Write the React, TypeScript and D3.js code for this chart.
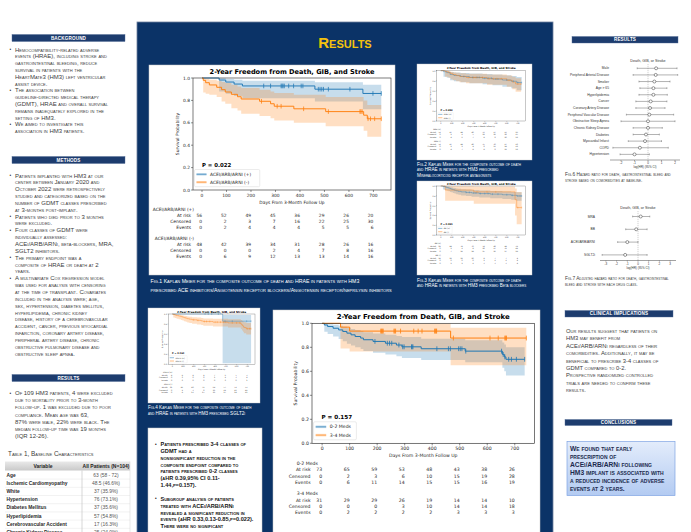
import React from 'react';
import * as d3 from 'd3';

const SANS = "'Liberation Sans', Arial, Helvetica, sans-serif";
const MPL = "'DejaVu Sans', 'Liberation Sans', sans-serif";
const BLUE = '#1f77b4';
const ORANGE = '#ff7f0e';
const PANEL = '#0b3367';
const BAR = '#1d3c6e';
const GOLD = '#f4c20d';
const BODY = '#3c3c3c';

// ---------------- shared axes ----------------
const DAY_TICKS = [0, 100, 200, 300, 400, 500, 600, 700];
const SURV_TICKS = [0, 0.2, 0.4, 0.6, 0.8, 1.0];
const DAY_DOMAIN = [-36.75, 771.75];
const RISK_ROWS = ['At risk', 'Censored', 'Events'];

// ---------------- Fig.1 ACEi/ARB/ARNi ----------------
const ACE_POS_T = [70, 97, 131, 165, 461, 657];
const ACE_POS_S = [0.982, 0.964, 0.946, 0.929, 0.9, 0.862];
const ACE_POS_LO = [0.88, 0.86, 0.84, 0.82, 0.79, 0.72];
const ACE_POS_HI = [0.997, 0.99, 0.985, 0.975, 0.962, 0.94];
const ACE_POS_CENS = [252, 280, 323, 327, 331, 336, 354, 374, 405, 412, 475, 482, 489, 496, 516, 604, 698, 732];
const ACE_POS_AT_RISK = [56, 52, 49, 45, 36, 29, 26, 20];
const ACE_POS_CENSORED = [0, 2, 3, 7, 16, 22, 25, 30];
const ACE_POS_EVENTS = [0, 2, 4, 4, 4, 5, 5, 6];

const ACE_NEG_T = [5, 15, 30, 60, 80, 95, 120, 145, 160, 235, 280, 295, 375, 505, 660, 675];
const ACE_NEG_S = [0.979, 0.958, 0.938, 0.917, 0.896, 0.875, 0.854, 0.833, 0.8125, 0.792, 0.77, 0.748, 0.725, 0.7, 0.668, 0.636];
const ACE_NEG_LO = [0.87, 0.86, 0.85, 0.83, 0.79, 0.77, 0.73, 0.71, 0.68, 0.66, 0.64, 0.62, 0.6, 0.57, 0.53, 0.476];
const ACE_NEG_HI = [0.997, 0.993, 0.985, 0.975, 0.965, 0.955, 0.94, 0.925, 0.91, 0.895, 0.88, 0.865, 0.85, 0.83, 0.8, 0.76];
const ACE_NEG_CENS = [243, 307, 323, 415, 516, 645, 649, 654, 678, 688, 705, 732];
const ACE_NEG_AT_RISK = [48, 42, 39, 34, 31, 28, 26, 16];
const ACE_NEG_CENSORED = [0, 0, 0, 2, 4, 7, 8, 16];
const ACE_NEG_EVENTS = [0, 6, 9, 12, 13, 13, 14, 16];

// ---------------- Fig.2 MRA ----------------
const MRA_POS_T = [25, 55, 85, 120, 180, 260, 380, 470, 560, 640, 690];
const MRA_POS_S = [0.981, 0.962, 0.923, 0.904, 0.885, 0.866, 0.85, 0.834, 0.815, 0.79, 0.765];
const MRA_POS_LO = [0.88, 0.86, 0.81, 0.79, 0.77, 0.75, 0.73, 0.71, 0.68, 0.65, 0.61];
const MRA_POS_HI = [0.997, 0.99, 0.975, 0.965, 0.955, 0.945, 0.935, 0.925, 0.91, 0.895, 0.875];
const MRA_POS_CENS = [210, 290, 330, 350, 400, 430, 460, 500, 520, 600, 660, 700, 735];
const MRA_POS_AT_RISK = [52, 47, 44, 40, 33, 27, 23, 16];
const MRA_POS_CENSORED = [0, 1, 2, 5, 11, 16, 19, 25];
const MRA_POS_EVENTS = [0, 4, 6, 7, 8, 9, 10, 11];

const MRA_NEG_T = [40, 70, 90, 110, 140, 170, 230, 420, 600, 650, 680];
const MRA_NEG_S = [0.981, 0.962, 0.942, 0.923, 0.904, 0.885, 0.865, 0.84, 0.81, 0.775, 0.735];
const MRA_NEG_LO = [0.88, 0.86, 0.83, 0.81, 0.79, 0.77, 0.75, 0.72, 0.68, 0.63, 0.58];
const MRA_NEG_HI = [0.997, 0.99, 0.98, 0.97, 0.96, 0.95, 0.94, 0.925, 0.905, 0.88, 0.85];
const MRA_NEG_CENS = [250, 300, 320, 380, 440, 480, 510, 550, 620, 700, 730];
const MRA_NEG_AT_RISK = [52, 47, 44, 40, 35, 30, 27, 20];
const MRA_NEG_CENSORED = [0, 1, 1, 4, 9, 13, 14, 21];
const MRA_NEG_EVENTS = [0, 4, 7, 8, 8, 9, 11, 11];

// ---------------- Fig.3 Beta blockers ----------------
const BB_POS_T = [20, 40, 55, 70, 85, 95, 110, 125, 140, 160, 185, 230, 280, 350, 450, 560, 640, 690];
const BB_POS_S = [0.989, 0.978, 0.967, 0.957, 0.946, 0.935, 0.924, 0.913, 0.902, 0.891, 0.88, 0.869, 0.858, 0.846, 0.834, 0.822, 0.81, 0.797];
const BB_POS_LO = [0.93, 0.92, 0.91, 0.895, 0.88, 0.87, 0.855, 0.845, 0.83, 0.82, 0.805, 0.795, 0.78, 0.765, 0.75, 0.735, 0.72, 0.7];
const BB_POS_HI = [0.998, 0.995, 0.99, 0.985, 0.98, 0.972, 0.965, 0.958, 0.95, 0.943, 0.935, 0.927, 0.92, 0.91, 0.9, 0.89, 0.88, 0.87];
const BB_POS_CENS = [230, 260, 300, 320, 360, 400, 430, 470, 520, 600, 650, 700, 720, 735];
const BB_POS_AT_RISK = [92, 84, 78, 70, 58, 49, 44, 32];
const BB_POS_CENSORED = [0, 1, 2, 8, 19, 27, 31, 42];
const BB_POS_EVENTS = [0, 7, 12, 14, 15, 16, 17, 18];

const BB_NEG_T = [40, 300, 675, 690];
const BB_NEG_S = [0.917, 0.88, 0.72, 0.56];
const BB_NEG_LO = [0.7, 0.64, 0.4, 0.22];
const BB_NEG_HI = [0.995, 0.99, 0.95, 0.88];
const BB_NEG_CENS = [330, 420, 500, 700, 735];
const BB_NEG_AT_RISK = [12, 11, 11, 10, 8, 7, 7, 4];
const BB_NEG_CENSORED = [0, 0, 0, 0, 1, 2, 2, 4];
const BB_NEG_EVENTS = [0, 1, 1, 2, 3, 3, 3, 4];

// ---------------- Fig.4 SGLT2i ----------------
const SG_POS_T = [470];
const SG_POS_S = [0.857];
const SG_POS_LO = [0.02];
const SG_POS_HI = [0.98];
const SG_POS_CENS = [306, 336, 368, 430, 492, 560, 694, 735];
const SG_POS_AT_RISK = [8, 8, 8, 8, 7, 6, 5, 3];
const SG_POS_CENSORED = [0, 0, 0, 0, 1, 2, 3, 4];
const SG_POS_EVENTS = [0, 0, 0, 0, 0, 0, 0, 1];

const SG_NEG_T = [10, 25, 40, 60, 80, 95, 110, 125, 140, 160, 185, 230, 270, 290, 380, 520, 640, 650, 660, 668, 690];
const SG_NEG_S = [0.99, 0.979, 0.969, 0.958, 0.948, 0.938, 0.927, 0.917, 0.906, 0.896, 0.885, 0.874, 0.862, 0.851, 0.838, 0.823, 0.8, 0.777, 0.754, 0.731, 0.708];
const SG_NEG_LO = [0.93, 0.92, 0.905, 0.895, 0.88, 0.87, 0.855, 0.845, 0.83, 0.82, 0.805, 0.79, 0.78, 0.765, 0.75, 0.73, 0.7, 0.67, 0.645, 0.615, 0.59];
const SG_NEG_HI = [0.998, 0.995, 0.99, 0.985, 0.978, 0.972, 0.965, 0.958, 0.95, 0.943, 0.935, 0.928, 0.92, 0.912, 0.905, 0.895, 0.88, 0.865, 0.85, 0.835, 0.82];
const SG_NEG_CENS = [200, 240, 300, 320, 350, 400, 420, 450, 480, 500, 560, 600, 630, 700, 720, 735];
const SG_NEG_AT_RISK = [96, 86, 80, 72, 64, 57, 52, 33];
const SG_NEG_CENSORED = [0, 2, 3, 9, 16, 22, 26, 42];
const SG_NEG_EVENTS = [0, 8, 13, 15, 16, 17, 18, 21];

// ---------------- Fig.5 number of GDMT classes ----------------
const MEDS02_T = [8, 20, 40, 60, 75, 90, 105, 120, 140, 150, 185, 230, 270, 290, 360, 520, 655, 662, 668];
const MEDS02_S = [0.986, 0.973, 0.959, 0.945, 0.932, 0.918, 0.904, 0.89, 0.877, 0.863, 0.849, 0.834, 0.819, 0.804, 0.788, 0.768, 0.741, 0.72, 0.7];
const MEDS02_LO = [0.93, 0.91, 0.89, 0.87, 0.85, 0.83, 0.815, 0.8, 0.785, 0.77, 0.755, 0.74, 0.725, 0.71, 0.695, 0.675, 0.63, 0.6, 0.565];
const MEDS02_HI = [0.998, 0.993, 0.987, 0.98, 0.972, 0.962, 0.953, 0.944, 0.935, 0.925, 0.915, 0.905, 0.895, 0.885, 0.872, 0.858, 0.84, 0.823, 0.8];
const MEDS02_CENS = [192, 237, 245, 253, 279, 293, 298, 325, 327, 330, 417, 459, 466, 496, 502, 508, 522, 652, 658, 664, 678, 688, 706, 736];
const MEDS02_AT_RISK = [73, 65, 59, 53, 48, 43, 38, 26];
const MEDS02_CENSORED = [0, 2, 3, 6, 10, 15, 19, 28];
const MEDS02_EVENTS = [0, 6, 11, 14, 15, 15, 16, 19];

const MEDS34_T = [67, 100, 467];
const MEDS34_S = [0.968, 0.935, 0.877];
const MEDS34_LO = [0.79, 0.765, 0.65];
const MEDS34_HI = [0.999, 0.999, 0.962];
const MEDS34_CENS = [213, 216, 219, 222, 261, 264, 267, 285, 333, 349, 363, 409, 411, 414, 416, 477, 610, 640, 664, 667, 670, 742];
const MEDS34_AT_RISK = [31, 29, 29, 26, 19, 14, 14, 10];
const MEDS34_CENSORED = [0, 0, 0, 3, 10, 14, 14, 18];
const MEDS34_EVENTS = [0, 2, 2, 2, 2, 3, 3, 3];

// ---------------- Forest plots ----------------
const FOREST1_LABELS = ['Male', 'Peripheral Arterial Disease', 'Smoker', 'Age > 65', 'Hyperlipidemia', 'Cancer', 'Coronary Artery Disease', 'Peripheral Vascular Disease', 'Obstructive Sleep Apnea', 'Chronic Kidney Disease', 'Diabetes', 'Myocardial Infarct', 'COPD', 'Hypertension'];
const FOREST1_EST = [0.6, 0.57, 0.47, 0.4, 0.4, 0.2, 0.15, 0.1, 0, 0, -0.15, -0.22, -0.6, -1.0];
const FOREST1_LO = [-0.8, -1.1, -0.67, -0.6, -0.67, -0.9, -0.9, -1.6, -2.0, -1.1, -1.1, -1.46, -2.6, -2.07];
const FOREST1_HI = [2.15, 2.2, 1.63, 1.4, 1.43, 1.4, 1.26, 1.9, 2.0, 1.06, 0.84, 1.0, 1.5, 0.1];
const FOREST1_TICKS = [-2, -1, 0, 1, 2];

const FOREST2_LABELS = ['MRA', 'BB', 'ACEI/ARB/ARNI', 'SGLT2i'];
const FOREST2_EST = [0.25, -0.17, -1.0, -1.2];
const FOREST2_LO = [-0.5, -1.15, -1.9, -3.35];
const FOREST2_HI = [1.1, 0.85, 0.0, 0.85];
const FOREST2_TICKS = [-3, -2, -1, 0, 1, 2, 3];

// ---------------- Table 1 ----------------
const TABLE_VARS = ['Age', 'Ischemic Cardiomyopathy', 'White', 'Hypertension', 'Diabetes Mellitus', 'Hyperlipidemia', 'Cerebrovascular Accident', 'Chronic Kidney Disease'];
const TABLE_VALUES = ['63 (58 - 72)', '48.5 (46.6%)', '37 (35.9%)', '76 (73.1%)', '37 (35.6%)', '57 (54.8%)', '17 (16.3%)', '25 (24.0%)'];

// ---------------- Text ----------------
const BG_LINES = [
  '• Hemocompatibility-related adverse',
  'events (HRAE), including stroke and',
  'gastrointestinal bleeding, reduce',
  'survival in patients with the',
  'HeartMate3 (HM3) left ventricular',
  'assist device.',
  '• The association between',
  'guideline-directed medical therapy',
  '(GDMT), HRAE and overall survival',
  'remains inadequately explored in the',
  'setting of HM3.',
  '• We aimed to investigate this',
  'association in HM3 patients.',
];
const METHODS_LINES = [
  '• Patients implanted with HM3 at our',
  'center between January 2020 and',
  'October 2022 were retrospectively',
  'studied and categorized based on the',
  'number of GDMT classes prescribed',
  'at 3-months post-implant.',
  '• Patients who died prior to 3 months',
  'were excluded.',
  '• Four classes of GDMT were',
  'individually assessed:',
  'ACEi/ARB/ARNi, beta-blockers, MRA,',
  'SGLT2 inhibitors.',
  '• The primary endpoint was a',
  'composite of HRAE or death at 2',
  'years.',
  '• A multivariate Cox regression model',
  'was used for analysis with censoring',
  'at the time of transplant. Covariates',
  'included in the analysis were; age,',
  'sex, hypertension, diabetes mellitus,',
  'hyperlipidemia, chronic kidney',
  'disease, history of a cerebrovascular',
  'accident, cancer, previous myocardial',
  'infarction, coronary artery disease,',
  'peripheral artery disease, chronic',
  'obstructive pulmonary disease and',
  'obstructive sleep apnea.',
];
const RESULTS_LINES = [
  '• Of 109 HM3 patients, 4 were excluded',
  'due to mortality prior to 3-month',
  'follow-up. 1 was excluded due to poor',
  'compliance.  Mean age was 63,',
  '87% were male, 22% were black. The',
  'median follow-up time was 19 months',
  '(IQR 12-26).',
];
const CENTER_BULLETS = [
  '• Patients prescribed 3-4 classes of',
  'GDMT had a',
  'nonsignificant reduction in the',
  'composite endpoint compared to',
  'patients prescribed 0-2 classes',
  '(aHR 0.39,95% CI 0.11-',
  '1.44,p=0.157).',
  '',
  '• Subgroup analysis of patients',
  'treated with ACEi/ARB/ARNi',
  'revealed a significant reduction in',
  'events (aHR 0.33,0.13-0.85,p=0.022).',
  'There were no significant',
];
const CLINICAL_LINES = [
  'Our results suggest that patients on',
  'HM3 may benefit from',
  'ACEi/ARB/ARNi regardless of their',
  'comorbidities. Additionally, it may be',
  'beneficial to prescribe 3-4 classes of',
  'GDMT compared to 0-2.',
  'Prospective randomized controlled',
  'trials are needed to confirm these',
  'results.',
];
const CONCLUSION_LINES = [
  'We found that early',
  'prescription of',
  'ACEi/ARB/ARNi following',
  'HM3 implant is associated with',
  'a reduced incidence of adverse',
  'events at 2 years.',
];
const FIG1_CAPTION = [
  'Fig.1 Kaplan Meier for the composite outcome of death and HRAE in patients with HM3',
  'prescribed ACE inhibitors/Angiotensin receptor blockers/Angiotensin receptor/neprilysin inhibitors',
];
const FIG2_CAPTION = [
  'Fig.2 Kaplan Meier for the composite outcome of death',
  'and HRAE in patients with HM3 prescribed',
  'Mineralocorticoid receptor antagonists',
];
const FIG3_CAPTION = [
  'Fig.3 Kaplan Meier for the composite outcome of death',
  'and HRAE in patients with HM3 prescribed Beta blockers',
];
const FIG4_CAPTION = [
  'Fig.4 Kaplan Meier for the composite outcome of death',
  'and HRAE in patients with HM3 prescribed SGLT2i',
];
const FIG6_CAPTION = [
  'Fig.6 Hazard ratio for death, gastrointestinal bleed and',
  'stroke based on comorbidities at baseline.',
];
const FIG7_CAPTION = [
  'Fig.7 Adjusted hazard ratio for death, gastrointestinal',
  'bleed and stroke with each drug class.',
];

// ---------------- helpers ----------------
type Grp = {
  label: string; color: string; t: number[]; s: number[]; lo: number[]; hi: number[];
  cens: number[]; atRisk: number[]; censored: number[]; events: number[];
};

function grp(label: string, color: string, t: number[], s: number[], lo: number[], hi: number[], cens: number[], atRisk: number[], censored: number[], events: number[]): Grp {
  return { label, color, t, s, lo, hi, cens, atRisk, censored, events };
}

function stepPts(g: Grp) {
  const end = Math.max(d3.max(g.cens) ?? 0, d3.max(g.t) ?? 0);
  const pts = [{ t: 0, s: 1, lo: 1, hi: 1 }];
  g.t.forEach((ti, i) => pts.push({ t: ti, s: g.s[i], lo: g.lo[i], hi: g.hi[i] }));
  const last = pts[pts.length - 1];
  pts.push({ t: end, s: last.s, lo: last.lo, hi: last.hi });
  return pts;
}

function survAt(g: Grp, t: number) {
  const i = d3.bisectRight(g.t, t) - 1;
  return i < 0 ? 1 : g.s[i];
}

type KMProps = { x0: number; x1: number; y0: number; y1: number; f: number; title: string; p: string; groups: Grp[]; nameDx: number };

function KM({ x0, x1, y0, y1, f, title, p, groups, nameDx }: KMProps) {
  const xs = d3.scaleLinear().domain(DAY_DOMAIN).range([x0, x1]);
  const ys = d3.scaleLinear().domain([0, 1]).range([y1, y0]);
  const line = d3.line<any>().x((d: any) => xs(d.t)).y((d: any) => ys(d.s)).curve(d3.curveStepAfter);
  const area = d3.area<any>().x((d: any) => xs(d.t)).y0((d: any) => ys(d.lo)).y1((d: any) => ys(d.hi)).curve(d3.curveStepAfter);
  const fs = 4.4 * f;
  const ink = '#262626';
  const maxLab = d3.max(groups, (g) => g.label.length) ?? 8;
  const legW = 19 * f + maxLab * 2.72 * f;
  return (
    <g fontFamily={MPL}>
      <text x={(x0 + x1) / 2} y={y0 - 5.8 * f} fontSize={6.6 * f} fontWeight="bold" textAnchor="middle" dominantBaseline="central" fill="#000">{title}</text>
      {groups.map((g, i) => <path key={'a' + i} d={area(stepPts(g)) || ''} fill={g.color} fillOpacity={0.25} />)}
      {groups.map((g, i) => <path key={'l' + i} d={line(stepPts(g)) || ''} fill="none" stroke={g.color} strokeWidth={0.95 * f} />)}
      {groups.map((g, i) => g.cens.map((ct, j) => {
        const yy = ys(survAt(g, ct));
        return <line key={'c' + i + '-' + j} x1={xs(ct)} x2={xs(ct)} y1={yy - 2.3 * f} y2={yy + 2.3 * f} stroke={g.color} strokeWidth={0.75 * f} />;
      }))}
      <rect x={x0} y={y0} width={x1 - x0} height={y1 - y0} fill="none" stroke={ink} strokeWidth={0.6 * f} />
      {SURV_TICKS.map((v) => (
        <g key={'y' + v}>
          <line x1={x0} x2={x0 - 2 * f} y1={ys(v)} y2={ys(v)} stroke={ink} strokeWidth={0.5 * f} />
          <text x={x0 - 3 * f} y={ys(v)} fontSize={fs} textAnchor="end" dominantBaseline="central" fill={ink}>{v.toFixed(1)}</text>
        </g>
      ))}
      {DAY_TICKS.map((t) => (
        <g key={'x' + t}>
          <line x1={xs(t)} x2={xs(t)} y1={y1} y2={y1 + 2 * f} stroke={ink} strokeWidth={0.5 * f} />
          <text x={xs(t)} y={y1 + 5 * f} fontSize={fs} textAnchor="middle" dominantBaseline="central" fill={ink}>{t}</text>
        </g>
      ))}
      <text x={(x0 + x1) / 2} y={y1 + 12 * f} fontSize={fs} textAnchor="middle" dominantBaseline="central" fill={ink}>Days From 3-Month Follow Up</text>
      <text transform={`translate(${x0 - 16 * f},${(y0 + y1) / 2}) rotate(-90)`} fontSize={fs} textAnchor="middle" dominantBaseline="central" fill={ink}>Survival Probability</text>
      <text x={x0 + 9 * f} y={y1 - 25 * f} fontSize={5.4 * f} fontWeight="bold" dominantBaseline="central" fill="#000">{p}</text>
      <rect x={x0 + 1.5 * f} y={y1 - 20.5 * f} width={legW} height={17.2 * f} rx={1.2 * f} fill="#fff" fillOpacity={0.85} stroke="#cfcfcf" strokeWidth={0.4 * f} />
      {groups.map((g, i) => {
        const yy = y1 - (15.7 - i * 7.9) * f;
        return (
          <g key={'lg' + i}>
            <rect x={x0 + 3.5 * f} y={yy - 1.2 * f} width={10 * f} height={2.4 * f} fill={g.color} fillOpacity={0.3} />
            <line x1={x0 + 3.5 * f} x2={x0 + 13.5 * f} y1={yy} y2={yy} stroke={g.color} strokeWidth={0.8 * f} strokeOpacity={0.7} />
            <text x={x0 + 17 * f} y={yy} fontSize={fs} dominantBaseline="central" fill={ink}>{g.label}</text>
          </g>
        );
      })}
      {groups.map((g, gi) => {
        const base = y1 + (19 + gi * 29) * f;
        const rows = [g.atRisk, g.censored, g.events];
        return (
          <g key={'rt' + gi} fontSize={fs} fill={ink}>
            <text x={xs(0) + nameDx * f} y={base} textAnchor="end" dominantBaseline="central">{g.label}</text>
            {rows.map((vals, r) => (
              <g key={'r' + r}>
                <text x={xs(0) - 11 * f} y={base + (r + 1) * 6.1 * f} textAnchor="end" dominantBaseline="central">{RISK_ROWS[r]}</text>
                {vals.map((v, k) => (
                  <text key={'v' + k} x={xs(DAY_TICKS[k])} y={base + (r + 1) * 6.1 * f} textAnchor="end" dominantBaseline="central">{v}</text>
                ))}
              </g>
            ))}
          </g>
        );
      })}
    </g>
  );
}

type ForestProps = {
  labels: string[]; est: number[]; lo: number[]; hi: number[]; ticks: number[];
  zeroX: number; unit: number; ax0: number; ax1: number; axisY: number; rowY0: number; rowDy: number;
  labelX: number; title: string; titleY: number; topY: number;
};

function Forest({ labels, est, lo, hi, ticks, zeroX, unit, ax0, ax1, axisY, rowY0, rowDy, labelX, title, titleY, topY }: ForestProps) {
  const xs = d3.scaleLinear().domain([(ax0 - zeroX) / unit, (ax1 - zeroX) / unit]).range([ax0, ax1]);
  const ys = d3.scaleLinear().domain([0, labels.length - 1]).range([rowY0, rowY0 + rowDy * (labels.length - 1)]);
  const ink = '#444';
  return (
    <g fontFamily={SANS}>
      <text x={xs(0)} y={titleY} fontSize={3.7} textAnchor="middle" dominantBaseline="central" fill="#333">{title}</text>
      <line x1={xs(0)} x2={xs(0)} y1={topY} y2={axisY} stroke="#9a9a9a" strokeWidth={0.45} strokeDasharray="1.2,0.8" />
      {labels.map((l, i) => (
        <g key={l}>
          <text x={labelX} y={ys(i)} fontSize={3.3} textAnchor="end" dominantBaseline="central" fill="#333">{l}</text>
          <line x1={xs(lo[i])} x2={xs(hi[i])} y1={ys(i)} y2={ys(i)} stroke="#666" strokeWidth={0.5} />
          <line x1={xs(lo[i])} x2={xs(lo[i])} y1={ys(i) - 0.9} y2={ys(i) + 0.9} stroke="#666" strokeWidth={0.5} />
          <line x1={xs(hi[i])} x2={xs(hi[i])} y1={ys(i) - 0.9} y2={ys(i) + 0.9} stroke="#666" strokeWidth={0.5} />
          <circle cx={xs(est[i])} cy={ys(i)} r={1.5} fill="#fff" stroke="#333" strokeWidth={0.5} />
        </g>
      ))}
      <line x1={ax0} x2={ax1} y1={axisY} y2={axisY} stroke={ink} strokeWidth={0.5} />
      {ticks.map((t) => (
        <g key={t}>
          <line x1={xs(t)} x2={xs(t)} y1={axisY} y2={axisY + 1.3} stroke={ink} strokeWidth={0.4} />
          <text x={xs(t)} y={axisY + 3.4} fontSize={3} textAnchor="middle" dominantBaseline="central" fill="#333">{t}</text>
        </g>
      ))}
      <text x={(ax0 + ax1) / 2} y={axisY + 7} fontSize={3} textAnchor="middle" dominantBaseline="central" fill="#333">log(HR) (95% CI)</text>
    </g>
  );
}

type TBProps = { lines: string[]; x: number; y: number; lh: number; size: number; fill: string; weight?: string; bulletX?: number; sc?: boolean; family?: string };

function TextBlock({ lines, x, y, lh, size, fill, weight = 'normal', bulletX, sc = true, family = SANS }: TBProps) {
  return (
    <g fontFamily={family} fontSize={size} fill={fill} fontWeight={weight} style={sc ? { fontVariant: 'small-caps' } : undefined}>
      {lines.map((l, i) => {
        const isB = l.startsWith('• ');
        const txt = isB ? l.slice(2) : l;
        return (
          <g key={i}>
            {isB && bulletX !== undefined && <text x={bulletX} y={y + i * lh} dominantBaseline="central" fontSize={size * 0.8}>•</text>}
            <text x={x} y={y + i * lh} dominantBaseline="central">{txt}</text>
          </g>
        );
      })}
    </g>
  );
}

function HeaderBar({ x, y, w, h, label }: { x: number; y: number; w: number; h: number; label: string }) {
  return (
    <g>
      <rect x={x} y={y} width={w} height={h} fill={BAR} stroke="#4f6a96" strokeWidth={0.4} />
      <text x={x + w / 2} y={y + h / 2 + 0.2} fontFamily={SANS} fontSize={4.6} fontWeight="bold" fill="#fff" textAnchor="middle" dominantBaseline="central" letterSpacing={0.15}>{label}</text>
    </g>
  );
}

export default function App() {
  const fig1 = [
    grp('ACEI/ARB/ARNI (+)', BLUE, ACE_POS_T, ACE_POS_S, ACE_POS_LO, ACE_POS_HI, ACE_POS_CENS, ACE_POS_AT_RISK, ACE_POS_CENSORED, ACE_POS_EVENTS),
    grp('ACEI/ARB/ARNI (-)', ORANGE, ACE_NEG_T, ACE_NEG_S, ACE_NEG_LO, ACE_NEG_HI, ACE_NEG_CENS, ACE_NEG_AT_RISK, ACE_NEG_CENSORED, ACE_NEG_EVENTS),
  ];
  const fig2 = [
    grp('MRA (+)', BLUE, MRA_POS_T, MRA_POS_S, MRA_POS_LO, MRA_POS_HI, MRA_POS_CENS, MRA_POS_AT_RISK, MRA_POS_CENSORED, MRA_POS_EVENTS),
    grp('MRA (-)', ORANGE, MRA_NEG_T, MRA_NEG_S, MRA_NEG_LO, MRA_NEG_HI, MRA_NEG_CENS, MRA_NEG_AT_RISK, MRA_NEG_CENSORED, MRA_NEG_EVENTS),
  ];
  const fig3 = [
    grp('BB (+)', BLUE, BB_POS_T, BB_POS_S, BB_POS_LO, BB_POS_HI, BB_POS_CENS, BB_POS_AT_RISK, BB_POS_CENSORED, BB_POS_EVENTS),
    grp('BB (-)', ORANGE, BB_NEG_T, BB_NEG_S, BB_NEG_LO, BB_NEG_HI, BB_NEG_CENS, BB_NEG_AT_RISK, BB_NEG_CENSORED, BB_NEG_EVENTS),
  ];
  const fig4 = [
    grp('SGLT2 (+)', BLUE, SG_POS_T, SG_POS_S, SG_POS_LO, SG_POS_HI, SG_POS_CENS, SG_POS_AT_RISK, SG_POS_CENSORED, SG_POS_EVENTS),
    grp('SGLT2 (-)', ORANGE, SG_NEG_T, SG_NEG_S, SG_NEG_LO, SG_NEG_HI, SG_NEG_CENS, SG_NEG_AT_RISK, SG_NEG_CENSORED, SG_NEG_EVENTS),
  ];
  const fig5 = [
    grp('0-2 Meds', BLUE, MEDS02_T, MEDS02_S, MEDS02_LO, MEDS02_HI, MEDS02_CENS, MEDS02_AT_RISK, MEDS02_CENSORED, MEDS02_EVENTS),
    grp('3-4 Meds', ORANGE, MEDS34_T, MEDS34_S, MEDS34_LO, MEDS34_HI, MEDS34_CENS, MEDS34_AT_RISK, MEDS34_CENSORED, MEDS34_EVENTS),
  ];
  const TITLE = '2-Year Freedom from Death, GIB, and Stroke';
  const tableRowH = 8.2;
  return (
    <div style={{ position: 'absolute', left: 0, top: 0, width: 691, height: 532, overflow: 'hidden', background: '#fff' }}>
      <svg width={691} height={532} viewBox="0 0 691 532" style={{ display: 'block' }}>
        <defs>
          <linearGradient id="concl" x1="0" y1="0" x2="0" y2="1">
            <stop offset="0" stopColor="#e3ecfb" />
            <stop offset="1" stopColor="#b3cbf2" />
          </linearGradient>
          <linearGradient id="thdr" x1="0" y1="0" x2="0" y2="1">
            <stop offset="0" stopColor="#e9e9e9" />
            <stop offset="1" stopColor="#c9c9c9" />
          </linearGradient>
          <clipPath id="pagec"><rect x={0} y={0} width={691} height={532} /></clipPath>
        </defs>
        <rect x={0} y={0} width={691} height={532} fill="#fff" />

        {/* ---------- LEFT COLUMN ---------- */}
        <HeaderBar x={12} y={34.5} w={113} h={7} label="BACKGROUND" />
        <TextBlock lines={BG_LINES} x={15} y={49.5} lh={6.8} size={6} fill={BODY} bulletX={9.5} />
        <HeaderBar x={12} y={156.5} w={113} h={7} label="METHODS" />
        <TextBlock lines={METHODS_LINES} x={15} y={175.5} lh={6.85} size={6} fill={BODY} bulletX={9.5} />
        <HeaderBar x={12} y={374.5} w={113} h={7} label="RESULTS" />
        <TextBlock lines={RESULTS_LINES} x={15} y={393} lh={7.2} size={6} fill={BODY} bulletX={9.5} />
        <TextBlock lines={['Table 1, Baseline Characteristics']} x={8} y={453} lh={7} size={6.4} fill={BODY} />
        <g fontFamily={SANS}>
          <rect x={5} y={461.5} width={125} height={9} fill="url(#thdr)" />
          <text x={43} y={466.2} fontSize={5} fontWeight="bold" textAnchor="middle" dominantBaseline="central" fill="#222">Variable</text>
          <text x={106} y={466.2} fontSize={5} fontWeight="bold" textAnchor="middle" dominantBaseline="central" fill="#222">All Patients (N=104)</text>
          {TABLE_VARS.map((v, i) => {
            const yc = 475 + i * tableRowH;
            return (
              <g key={v}>
                <line x1={5} x2={130} y1={yc + tableRowH / 2} y2={yc + tableRowH / 2} stroke="#e4e4e4" strokeWidth={0.5} />
                <text x={6.5} y={yc} fontSize={4.9} fontWeight="bold" dominantBaseline="central" fill="#2a2a2a">{v}</text>
                <text x={106} y={yc} fontSize={4.9} textAnchor="middle" dominantBaseline="central" fill="#555">{TABLE_VALUES[i]}</text>
              </g>
            );
          })}
          <line x1={82} x2={82} y1={470.5} y2={532} stroke="#bdbdbd" strokeWidth={0.6} />
          <line x1={130} x2={130} y1={461.5} y2={532} stroke="#d0d0d0" strokeWidth={0.5} />
        </g>

        {/* ---------- CENTER PANEL ---------- */}
        <rect x={137} y={22} width={416} height={515} fill={PANEL} stroke="#6f819f" strokeWidth={0.8} />
        <text x={345} y={42.5} fontFamily={SANS} fontSize={15} fontWeight="bold" fill={GOLD} textAnchor="middle" dominantBaseline="central" style={{ fontVariant: 'small-caps' }}>Results</text>

        {/* Fig.1 */}
        <rect x={149} y={65} width={246} height={210} fill="#fff" stroke="#c8c8c8" strokeWidth={0.5} />
        <KM x0={193} x1={391} y0={78} y1={190} f={1} title={TITLE} p="P = 0.022" groups={fig1} nameDx={-8} />
        <TextBlock lines={FIG1_CAPTION} x={150.5} y={281} lh={8.5} size={5.2} fill="#fff" />

        {/* Fig.2 */}
        <rect x={417} y={64} width={115} height={96} fill="#fff" stroke="#c8c8c8" strokeWidth={0.4} />
        <KM x0={436.7} x1={525.7} y0={70.7} y1={121} f={0.42} title={TITLE} p="P = 0.854" groups={fig2} nameDx={0} />
        <TextBlock lines={FIG2_CAPTION} x={417} y={164} lh={5.8} size={4.7} fill="#fff" />

        {/* Fig.3 */}
        <rect x={417} y={181} width={115} height={94} fill="#fff" stroke="#c8c8c8" strokeWidth={0.4} />
        <KM x0={436.7} x1={525.7} y0={186} y1={235} f={0.42} title={TITLE} p="P = 0.093" groups={fig3} nameDx={0} />
        <TextBlock lines={FIG3_CAPTION} x={417} y={280} lh={5.8} size={4.7} fill="#fff" />

        {/* Fig.4 */}
        <rect x={148} y={308} width={112} height={95} fill="#fff" stroke="#c8c8c8" strokeWidth={0.4} />
        <KM x0={168.3} x1={255} y0={314} y1={364.3} f={0.42} title={TITLE} p="P = 0.262" groups={fig4} nameDx={0} />
        <TextBlock lines={FIG4_CAPTION} x={148} y={407.5} lh={5.8} size={4.6} fill="#fff" />

        {/* bullet box */}
        <g clipPath="url(#pagec)">
          <rect x={148} y={428} width={114} height={110} fill="#fff" stroke="#c8c8c8" strokeWidth={0.5} />
          <TextBlock lines={CENTER_BULLETS} x={160.5} y={444} lh={6.85} size={5.6} fill="#161616" weight="bold" bulletX={155} />
        </g>

        {/* Fig.5 */}
        <rect x={273} y={310} width={267} height={230} fill="#fff" stroke="#c8c8c8" strokeWidth={0.5} />
        <KM x0={312} x1={534.5} y0={323.3} y1={443.3} f={1.05} title={TITLE} p="P = 0.157" groups={fig5} nameDx={-4} />

        {/* ---------- RIGHT COLUMN ---------- */}
        <HeaderBar x={572} y={36.5} w={106} h={6.5} label="RESULTS" />
        <Forest labels={FOREST1_LABELS} est={FOREST1_EST} lo={FOREST1_LO} hi={FOREST1_HI} ticks={FOREST1_TICKS}
          zeroX={648} unit={13.5} ax0={610} ax1={680} axisY={160} rowY0={68.3} rowDy={6.62}
          labelX={609} title="Death, GIB, or Stroke" titleY={60.5} topY={64} />
        <TextBlock lines={FIG6_CAPTION} x={565} y={174.5} lh={6} size={4.8} fill={BODY} />
        <Forest labels={FOREST2_LABELS} est={FOREST2_EST} lo={FOREST2_LO} hi={FOREST2_HI} ticks={FOREST2_TICKS}
          zeroX={638} unit={10.7} ax0={600} ax1={676} axisY={260.5} rowY0={216.5} rowDy={12.8}
          labelX={595} title="Death, GIB, or Stroke" titleY={208} topY={211} />
        <TextBlock lines={FIG7_CAPTION} x={565} y={278.5} lh={6} size={4.8} fill={BODY} />
        <HeaderBar x={565} y={310.5} w={108} h={6.5} label="CLINICAL IMPLICATIONS" />
        <TextBlock lines={CLINICAL_LINES} x={566} y={331} lh={7.4} size={5.8} fill={BODY} />
        <HeaderBar x={565} y={419.5} w={107} h={6} label="CONCLUSIONS" />
        <rect x={567} y={441.5} width={108} height={54} fill="url(#concl)" stroke="#7fa4e3" strokeWidth={0.7} />
        <TextBlock lines={CONCLUSION_LINES} x={570} y={448} lh={8.1} size={6.7} fill="#1c2b4f" weight="bold" />
      </svg>
    </div>
  );
}
